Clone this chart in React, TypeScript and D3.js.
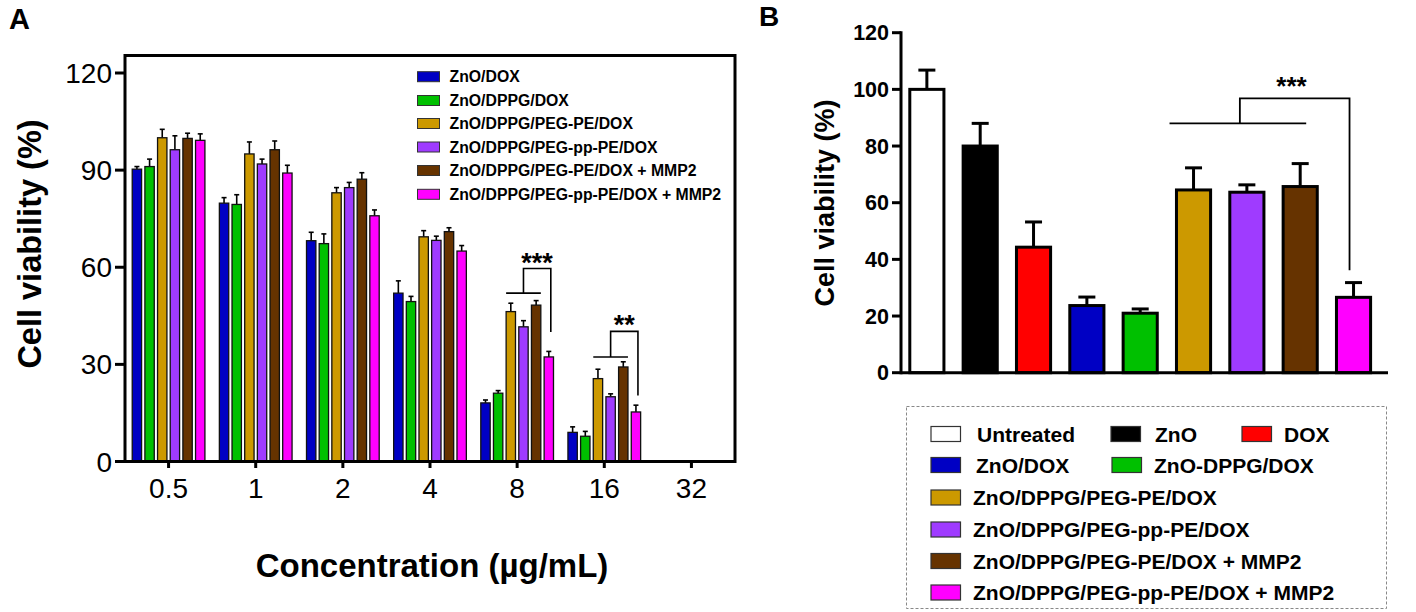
import React from "react";
import * as d3 from "d3";

// ---------- Panel A data ----------
const concentrations = ["0.5", "1", "2", "4", "8", "16", "32"];
const seriesA = [
  "ZnO/DOX",
  "ZnO/DPPG/DOX",
  "ZnO/DPPG/PEG-PE/DOX",
  "ZnO/DPPG/PEG-pp-PE/DOX",
  "ZnO/DPPG/PEG-PE/DOX + MMP2",
  "ZnO/DPPG/PEG-pp-PE/DOX + MMP2",
];
const colorsA = ["#0000c4", "#00c000", "#cc9900", "#9f3bff", "#663300", "#ff00ff"];
const znoDox = [90.3, 79.8, 68.2, 52.0, 18.1, 9.0, null];
const znoDppgDox = [91.1, 79.4, 67.3, 49.4, 21.1, 7.8, null];
const pegPe = [100.0, 95.0, 83.0, 69.4, 46.3, 25.6, null];
const pegPpPe = [96.3, 91.9, 84.6, 68.3, 41.6, 20.0, null];
const pegPeMmp2 = [99.8, 96.3, 87.2, 71.0, 48.3, 29.2, null];
const pegPpPeMmp2 = [99.2, 89.1, 75.9, 65.0, 32.3, 15.3, null];
const znoDoxErr = [0.8, 1.7, 2.6, 3.8, 0.9, 1.7, null];
const znoDppgDoxErr = [2.3, 3.0, 3.0, 1.6, 0.8, 1.5, null];
const pegPeErr = [2.6, 3.7, 1.6, 1.9, 2.6, 2.9, null];
const pegPpPeErr = [4.3, 1.5, 1.6, 1.3, 1.9, 0.9, null];
const pegPeMmp2Err = [1.6, 2.7, 2.0, 1.2, 1.4, 1.6, null];
const pegPpPeMmp2Err = [2.0, 2.4, 1.8, 1.7, 1.7, 2.1, null];
const valuesA = [znoDox, znoDppgDox, pegPe, pegPpPe, pegPeMmp2, pegPpPeMmp2];
const errorsA = [znoDoxErr, znoDppgDoxErr, pegPeErr, pegPpPeErr, pegPeMmp2Err, pegPpPeMmp2Err];
const yTicksA = [0, 30, 60, 90, 120];
const sigGroupsA = ["8", "16"];
const sigBaseA = [52, 32.3];
const sigTopA = [59.6, 40.2];
const sigDropA = [40, 20.4];
const sigLabelsA = ["***", "**"];

// ---------- Panel B data ----------
const categoriesB = [
  "Untreated",
  "ZnO",
  "DOX",
  "ZnO/DOX",
  "ZnO-DPPG/DOX",
  "ZnO/DPPG/PEG-PE/DOX",
  "ZnO/DPPG/PEG-pp-PE/DOX",
  "ZnO/DPPG/PEG-PE/DOX + MMP2",
  "ZnO/DPPG/PEG-pp-PE/DOX + MMP2",
];
const colorsB = ["#ffffff", "#000000", "#ff0000", "#0000c4", "#00c000", "#cc9900", "#9f3bff", "#663300", "#ff00ff"];
const valuesB = [100, 80, 44.3, 23.7, 21.0, 64.5, 63.7, 65.7, 26.6];
const errorsB = [6.8, 8.0, 8.9, 3.0, 1.5, 7.8, 2.6, 8.1, 5.2];
const yTicksB = [0, 20, 40, 60, 80, 100, 120];
const sigBaseB = 88;
const sigTopB = 96.8;
const sigDropB = 36.2;
const sigLabelB = "***";

const FONT = "'Liberation Sans', Arial, Helvetica, sans-serif";

export default function App() {
  // Panel A scales
  const yA = d3.scaleLinear().domain([0, 120]).range([461.5, 73]);
  const x0 = d3.scaleBand().domain(concentrations).range([125, 735]).paddingInner(0.128).paddingOuter(0.064);
  const x1 = d3.scaleBand().domain(seriesA).range([0, x0.bandwidth()]).paddingInner(0.26).paddingOuter(0.13);

  // Panel B scales
  const yB = d3.scaleLinear().domain([0, 120]).range([372.7, 32.7]);
  const xB = d3.scaleBand().domain(categoriesB).range([900.2, 1380.2]).paddingInner(0.36).paddingOuter(0.18);
  const bwB = xB.bandwidth();

  // legend B layout
  const legendB = [
    { i: 0, sx: 931, tx: 977, row: 0 },
    { i: 1, sx: 1111, tx: 1155, row: 0 },
    { i: 2, sx: 1242, tx: 1284, row: 0 },
    { i: 3, sx: 931, tx: 976, row: 1 },
    { i: 4, sx: 1112, tx: 1154, row: 1 },
    { i: 5, sx: 931, tx: 973, row: 2 },
    { i: 6, sx: 931, tx: 973, row: 3 },
    { i: 7, sx: 931, tx: 973, row: 4 },
    { i: 8, sx: 931, tx: 973, row: 5 },
  ];
  const rowY = [434, 465, 497.5, 529.5, 561, 592.5];

  const gold = seriesA[2], brown = seriesA[4], mag = seriesA[5];

  return (
    <svg
      width={1416}
      height={612}
      style={{ position: "absolute", left: 0, top: 0, background: "#fff", fontFamily: FONT }}
    >
      <rect x={0} y={0} width={1416} height={612} fill="#fff" />
      {/* Panel letters */}
      <text x={9} y={29} fontSize={29} fontWeight="bold">A</text>
      <text x={759} y={26} fontSize={28} fontWeight="bold">B</text>

      {/* ================= Panel A ================= */}
      {concentrations.map((c, ci) => (
        <g key={c} transform={`translate(${x0(c)},0)`}>
          {seriesA.map((s, si) => {
            const v = valuesA[si][ci];
            if (v == null) return null;
            const e = errorsA[si][ci] ?? 0;
            const bx = x1(s)!;
            const cx = bx + x1.bandwidth() / 2;
            return (
              <g key={s}>
                <line x1={cx} x2={cx} y1={yA(v)} y2={yA(v + e)} stroke="#000" strokeWidth={1.6} />
                <line x1={cx - 2.5} x2={cx + 2.5} y1={yA(v + e)} y2={yA(v + e)} stroke="#000" strokeWidth={1.6} />
                <rect x={bx} y={yA(v)} width={x1.bandwidth()} height={yA(0) - yA(v)} fill={colorsA[si]} stroke="#111" strokeWidth={1.3} />
              </g>
            );
          })}
        </g>
      ))}
      <rect x={125} y={55.5} width={610} height={406} fill="none" stroke="#000" strokeWidth={3} />
      {yTicksA.map((t) => (
        <g key={t}>
          <line x1={115} x2={125} y1={yA(t)} y2={yA(t)} stroke="#000" strokeWidth={3} />
          <text x={112} y={yA(t) + 10} fontSize={28} textAnchor="end">{t}</text>
        </g>
      ))}
      {concentrations.map((c) => {
        const cx = x0(c)! + x0.bandwidth() / 2;
        return (
          <g key={c}>
            <line x1={cx} x2={cx} y1={461.5} y2={468} stroke="#000" strokeWidth={3} />
            <text x={cx} y={498} fontSize={28} textAnchor="middle">{c}</text>
          </g>
        );
      })}
      <text x={432} y={577} fontSize={33} fontWeight="bold" textAnchor="middle">Concentration (µg/mL)</text>
      <text transform="translate(41,244) rotate(-90)" fontSize={32.5} fontWeight="bold" textAnchor="middle">Cell viability (%)</text>

      {sigGroupsA.map((g, k) => {
        const gx = x0(g)!;
        const xs = gx + x1(gold)!;
        const xe = gx + x1(brown)! + x1.bandwidth();
        const xm = (xs + xe) / 2;
        const xd = gx + x1(mag)! + x1.bandwidth() / 2 + 2;
        return (
          <g key={g} stroke="#000" strokeWidth={1.6} fill="none">
            <line x1={xs} x2={xe} y1={yA(sigBaseA[k])} y2={yA(sigBaseA[k])} />
            <path d={`M${xm},${yA(sigBaseA[k])}V${yA(sigTopA[k])}H${xd}V${yA(sigDropA[k])}`} />
            <text x={(xm + xd) / 2} y={yA(sigTopA[k]) + 3} stroke="none" fill="#000" fontSize={27} fontWeight="bold" textAnchor="middle">{sigLabelsA[k]}</text>
          </g>
        );
      })}

      {seriesA.map((s, i) => {
        const cy = [76.7, 100.5, 123.5, 147, 170.5, 194.3][i];
        return (
          <g key={s}>
            <rect x={417.5} y={cy - 5} width={22} height={10} fill={colorsA[i]} stroke="#333" strokeWidth={1} />
            <text x={449.5} y={cy + 5.5} fontSize={15.8} fontWeight="bold">{s}</text>
          </g>
        );
      })}

      {/* ================= Panel B ================= */}
      {categoriesB.map((c, i) => {
        const v = valuesB[i];
        const e = errorsB[i];
        const bx = xB(c)!;
        const cx = bx + bwB / 2;
        return (
          <g key={c}>
            <line x1={cx} x2={cx} y1={yB(v)} y2={yB(v + e)} stroke="#000" strokeWidth={3} />
            <line x1={cx - 8.5} x2={cx + 8.5} y1={yB(v + e)} y2={yB(v + e)} stroke="#000" strokeWidth={3} />
            <rect x={bx} y={yB(v)} width={bwB} height={yB(0) - yB(v)} fill={colorsB[i]} stroke="#000" strokeWidth={3} />
          </g>
        );
      })}
      <line x1={901} x2={901} y1={yB(120) - 1.5} y2={yB(0) + 1.5} stroke="#000" strokeWidth={3} />
      <line x1={901} x2={1388} y1={yB(0)} y2={yB(0)} stroke="#000" strokeWidth={3} />
      {yTicksB.map((t) => (
        <g key={t}>
          <line x1={892} x2={901} y1={yB(t)} y2={yB(t)} stroke="#000" strokeWidth={3} />
          <text x={889} y={yB(t) + 7.5} fontSize={21.5} fontWeight="bold" textAnchor="end">{t}</text>
        </g>
      ))}
      <text transform="translate(834,203) rotate(-90)" fontSize={27} fontWeight="bold" textAnchor="middle">Cell viability (%)</text>

      {(() => {
        const xs = xB(categoriesB[5])! + bwB / 2 - 24;
        const xe = xB(categoriesB[7])! + bwB / 2 + 6;
        const xm = (xs + xe) / 2 + 2;
        const xd = xB(categoriesB[8])! + bwB / 2 - 4;
        return (
          <g stroke="#000" strokeWidth={1.8} fill="none">
            <line x1={xs} x2={xe} y1={yB(sigBaseB)} y2={yB(sigBaseB)} />
            <path d={`M${xm},${yB(sigBaseB)}V${yB(sigTopB)}H${xd}V${yB(sigDropB)}`} />
            <text x={1291.5} y={95} stroke="none" fill="#000" fontSize={26} fontWeight="bold" textAnchor="middle">{sigLabelB}</text>
          </g>
        );
      })()}

      <rect x={906.5} y={406.5} width={480} height={202} fill="none" stroke="#888" strokeWidth={1} strokeDasharray="3,2" />
      {legendB.map((l) => (
        <g key={l.i}>
          <rect x={l.sx} y={rowY[l.row] - 7.5} width={29.5} height={15} fill={colorsB[l.i]} stroke="#333" strokeWidth={1.2} />
          <text x={l.tx} y={rowY[l.row] + 7.5} fontSize={21} fontWeight="bold">{categoriesB[l.i]}</text>
        </g>
      ))}
    </svg>
  );
}
